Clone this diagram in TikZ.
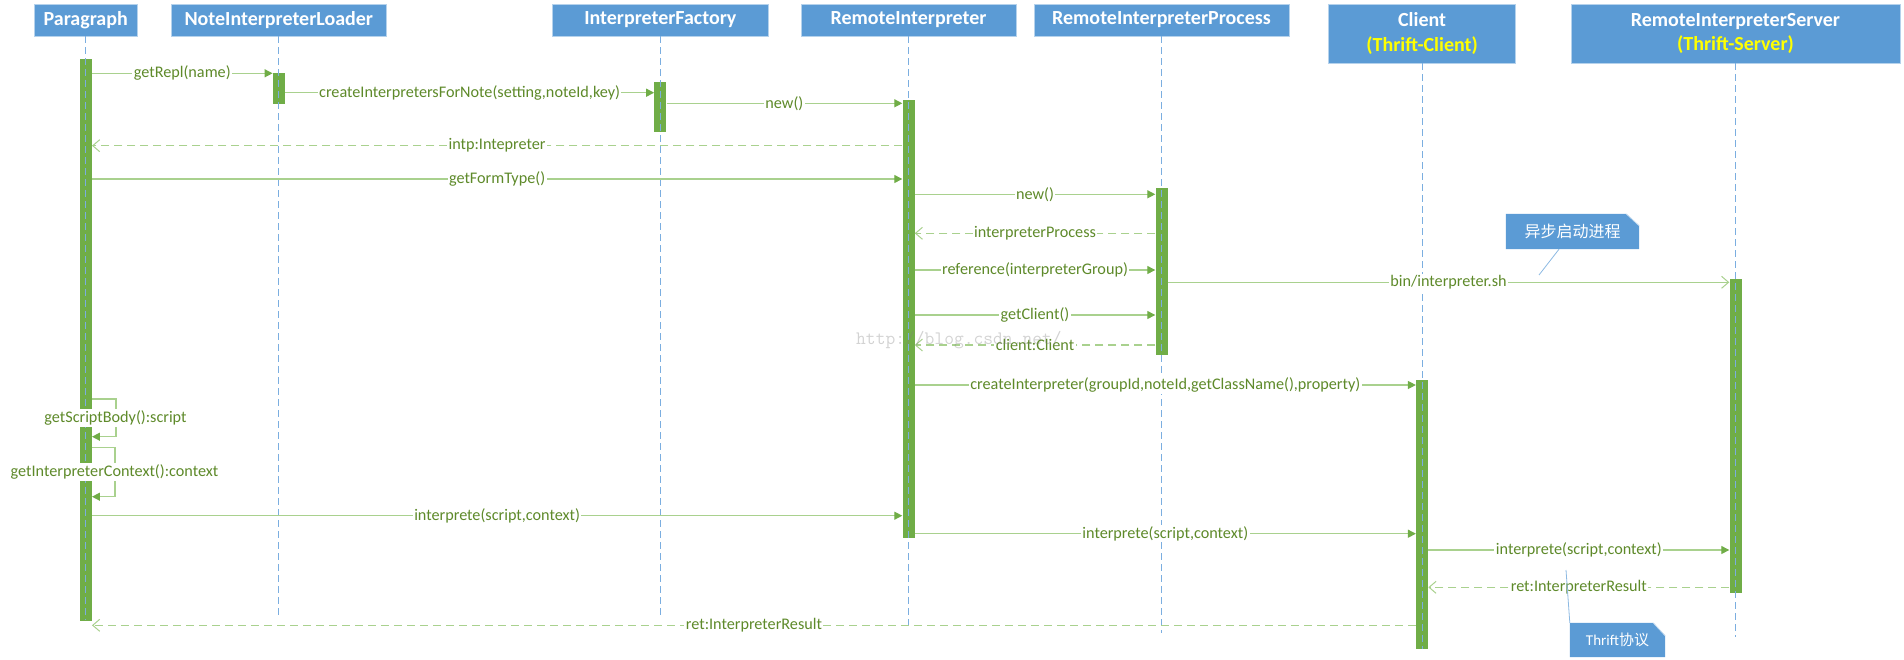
\documentclass[tikz,border=0pt]{standalone}
\usepackage{fontspec}
\setmainfont{Carlito}
\newfontfamily\cjk{Noto Sans CJK SC}
\usetikzlibrary{arrows.meta,backgrounds}
\definecolor{hdrblue}{HTML}{5B9BD5}
\definecolor{bargreen}{HTML}{70AD47}
\definecolor{linegreen}{HTML}{A9D18E}
\definecolor{txtgreen}{HTML}{5E8A2A}
\definecolor{lifeblue}{HTML}{7BAEE0}
\definecolor{thriftyellow}{HTML}{FFFF00}
\begin{document}
\begin{tikzpicture}[x=1pt,y=-1pt,
  hdr/.style={fill=hdrblue, draw=hdrblue!45!white, line width=0.8pt, text=white,
    font=\bfseries\fontsize{20}{24.5}\selectfont, inner sep=0pt, align=center, minimum height=32pt},
  bar/.style={fill=bargreen, draw=none, minimum width=12pt, inner sep=0pt},
  life/.style={draw=lifeblue, line width=1pt, dash pattern=on 7pt off 4pt},
  msg/.style={draw=linegreen, line width=1.3pt, -{Triangle[length=8pt,width=8pt,color=bargreen]}},
  openmsg/.style={draw=linegreen, line width=1.3pt, -{Straight Barb[length=7pt,width=12pt,line width=1pt,color=linegreen]}},
  ret/.style={draw=linegreen, line width=1.3pt, dash pattern=on 8pt off 5pt,
    -{Straight Barb[length=7pt,width=12pt,line width=1pt,color=linegreen]}},
  lbl/.style={fill=white, text=txtgreen, font=\fontsize{16.2}{18}\selectfont, inner sep=1.5pt},
  notebox/.style={text=white, inner sep=0pt},
  notefill/.style={fill=hdrblue},
  notefold/.style={draw=hdrblue!35!white, line width=0.8pt},
  noteline/.style={draw=hdrblue!70!white, line width=0.8pt},
]
\useasboundingbox (0,0) rectangle (1904,659);

% headers
\node[hdr, minimum width=103.5pt] (hP) at (85.75,20) {Paragraph};
\node[hdr, minimum width=215.6pt] (hNIL) at (278.8,20) {NoteInterpreterLoader};
\node[hdr, minimum width=215.3pt] (hIF) at (660.35,20) {InterpreterFactory};
\node[hdr, minimum width=215pt] (hRI) at (908.5,20) {RemoteInterpreter};
\node[hdr, minimum width=255pt] (hRIP) at (1161.5,20) {RemoteInterpreterProcess};
\node[hdr, minimum width=187.2pt, minimum height=59pt] (hC) at (1422.1,33.5) {Client\\\textcolor{thriftyellow}{(Thrift-Client)}};
\node[hdr, minimum width=329pt, minimum height=59pt] (hS) at (1735.5,33.5) {RemoteInterpreterServer\\\textcolor{thriftyellow}{(Thrift-Server)}};

% activation bars
\node[bar, minimum height=561.4pt] (bP) at (hP.south |- 0,340) {};
\node[bar, minimum height=31pt] (bNIL) at (hNIL.south |- 0,88.2) {};
\node[bar, minimum height=49.7pt] (bIF) at (hIF.south |- 0,106.85) {};
\node[bar, minimum height=438.3pt] (bRI) at (hRI.south |- 0,319.15) {};
\node[bar, minimum height=167.3pt] (bRIP) at (hRIP.south |- 0,271.35) {};
\node[bar, minimum height=269pt] (bC) at (hC.south |- 0,514.5) {};
\node[bar, minimum height=314pt] (bS) at (hS.south |- 0,436.3) {};

% lifelines
\coordinate (eP) at (hP.south |- 0,620);
\coordinate (eNIL) at (hNIL.south |- 0,618);
\coordinate (eIF) at (hIF.south |- 0,618);
\coordinate (eRI) at (hRI.south |- 0,630);
\coordinate (eRIP) at (hRIP.south |- 0,633);
\coordinate (eC) at (hC.south |- 0,649);
\coordinate (eS) at (hS.south |- 0,637);
\draw[life] (hP.south) -- (eP);
\draw[life] (hNIL.south) -- (eNIL);
\draw[life] (hIF.south) -- (eIF);
\draw[life] (hRI.south) -- (eRI);
\draw[life] (hRIP.south) -- (eRIP);
\draw[life] (hC.south) -- (eC);
\draw[life] (hS.south) -- (eS);

% messages
\draw[msg] (bP.east |- 0,73.3) -- node[lbl]{getRepl(name)} (bNIL.west |- 0,73.3);
\draw[msg] (bNIL.east |- 0,92.7) -- node[lbl]{createInterpretersForNote(setting,noteId,key)} (bIF.west |- 0,92.7);
\draw[msg] (bIF.east |- 0,103.3) -- node[lbl]{new()} (bRI.west |- 0,103.3);
\draw[ret] (bRI.west |- 0,145.7) -- node[lbl]{intp:Intepreter} (bP.east |- 0,145.7);
\draw[msg] (bP.east |- 0,179) -- node[lbl]{getFormType()} (bRI.west |- 0,179);
\draw[msg] (bRI.east |- 0,194.3) -- node[lbl]{new()} (bRIP.west |- 0,194.3);
\draw[ret] (bRIP.west |- 0,233.3) -- node[lbl]{interpreterProcess} (bRI.east |- 0,233.3);
\draw[msg] (bRI.east |- 0,270) -- node[lbl]{reference(interpreterGroup)} (bRIP.west |- 0,270);
\draw[openmsg] (bRIP.east |- 0,282.3) -- node[lbl]{bin/interpreter.sh} (bS.west |- 0,282.3);
\draw[msg] (bRI.east |- 0,315) -- node[lbl]{getClient()} (bRIP.west |- 0,315);
\draw[ret] (bRIP.west |- 0,345) -- node[lbl]{client:Client} (bRI.east |- 0,345);
\draw[msg] (bRI.east |- 0,385) -- node[lbl]{createInterpreter(groupId,noteId,getClassName(),property)} (bC.west |- 0,385);

% self calls
\draw[msg] (bP.east |- 0,399) -| (116,418) |- (bP.east |- 0,436.7);
\node[lbl] (sl1) at (115.5,418) {getScriptBody():script};
\draw[msg] (bP.east |- 0,447.7) -| (115,472) |- (bP.east |- 0,496.7);
\node[lbl] (sl2) at (114.5,472) {getInterpreterContext():context};

\draw[msg] (bP.east |- 0,515.7) -- node[lbl]{interprete(script,context)} (bRI.west |- 0,515.7);
\draw[msg] (bRI.east |- 0,533.7) -- node[lbl]{interprete(script,context)} (bC.west |- 0,533.7);
\draw[msg] (bC.east |- 0,550) -- node[lbl]{interprete(script,context)} (bS.west |- 0,550);
\draw[ret] (bS.west |- 0,587.3) -- node[lbl]{ret:InterpreterResult} (bC.east |- 0,587.3);
\draw[ret] (bC.west |- 0,625.3) -- node[lbl]{ret:InterpreterResult} (bP.east |- 0,625.3);

% notes
\node[notebox, minimum width=133pt, minimum height=35pt, font=\cjk\fontsize{16}{18}\selectfont] (n1) at (1572.5,231.5) {异步启动进程};
\node[notebox, minimum width=95pt, minimum height=34pt, font=\fontsize{15}{18}\selectfont] (n2) at (1617.5,640) {Thrift{\cjk 协议}};
\begin{scope}[on background layer]
  \fill[notefill] (n1.north west) -- ([xshift=-13pt]n1.north east) -- ([yshift=-12pt]n1.north east) -- (n1.south east) -- (n1.south west) -- cycle;
  \draw[notefold] ([xshift=-13pt]n1.north east) -- ([yshift=-12pt]n1.north east);
  \fill[notefill] (n2.north west) -- ([xshift=-12pt]n2.north east) -- ([yshift=-13pt]n2.north east) -- (n2.south east) -- (n2.south west) -- cycle;
  \draw[notefold] ([xshift=-12pt]n2.north east) -- ([yshift=-13pt]n2.north east);
\end{scope}
\coordinate (c1) at (1539,275);
\coordinate (c2) at (1566,570);
\draw[noteline] (n1.south -| 1559,0) -- (c1);
\draw[noteline] (c2) -- (n2.north west);

% watermark
\node[anchor=west, text=gray, opacity=0.35, inner sep=0pt, font=\ttfamily\fontsize{19}{19}\selectfont] (wm) at (856,340) {http://blog.csdn.net/};
\end{tikzpicture}
\end{document}
